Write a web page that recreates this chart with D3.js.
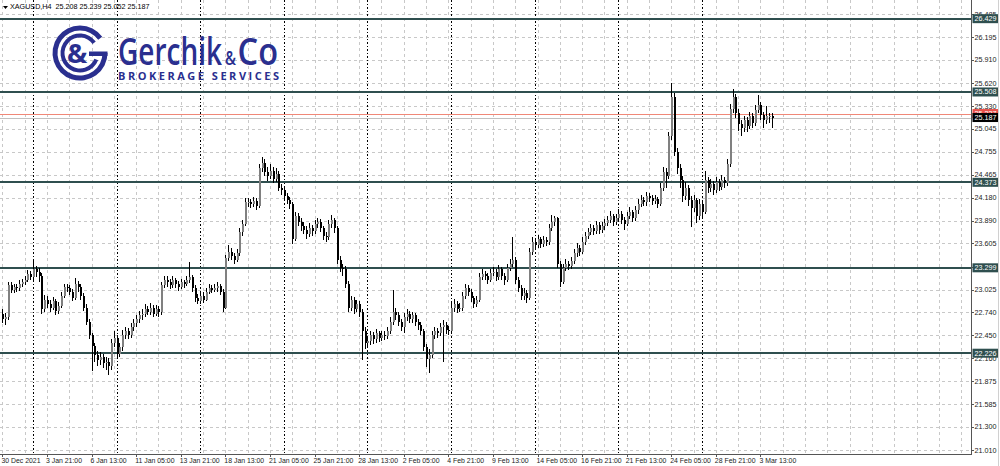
<!DOCTYPE html>
<html><head><meta charset="utf-8">
<script src="https://cdn.jsdelivr.net/npm/d3@7"></script>
<style>html,body{margin:0;padding:0;background:#fff;}svg{display:block;}</style>
</head><body><svg id="c" width="1000" height="466"></svg>
<script>
const opens=[22.72,22.66,22.68,23.08,23.02,23.06,23.04,23.10,23.12,23.15,
23.22,23.18,23.28,23.25,23.20,22.78,22.90,22.85,22.80,22.88,
22.76,22.82,22.95,23.06,23.04,23.00,22.92,23.10,23.06,22.95,
22.80,22.62,22.45,22.32,22.20,22.14,22.18,22.10,22.12,22.06,
22.35,22.42,22.22,22.30,22.45,22.50,22.45,22.55,22.60,22.65,
22.70,22.72,22.78,22.75,22.80,22.72,22.78,22.74,23.08,23.15,
23.12,23.08,23.14,23.10,23.06,23.12,23.10,23.15,23.18,23.05,
22.92,22.88,22.95,22.90,23.00,23.05,23.02,23.04,23.07,23.00,
22.80,23.42,23.50,23.45,23.40,23.48,23.75,23.85,24.12,24.12,
24.10,24.14,24.08,24.55,24.62,24.50,24.45,24.52,24.42,24.48,
24.30,24.28,24.20,24.15,24.10,23.66,23.95,23.88,23.82,23.78,
23.72,23.80,23.76,23.85,23.88,23.80,23.70,23.68,23.85,23.90,
23.80,23.40,23.30,23.28,23.10,22.80,22.90,22.78,22.85,22.75,
22.50,22.35,22.38,22.45,22.40,22.48,22.42,22.46,22.44,22.50,
22.62,22.75,22.70,22.62,22.55,22.68,22.72,22.65,22.70,22.62,
22.58,22.50,22.30,22.15,22.20,22.45,22.50,22.48,22.55,22.58,
22.52,22.50,22.80,22.85,22.78,22.80,22.95,23.05,23.00,22.92,
22.85,22.90,23.18,23.22,23.20,23.15,23.24,23.25,23.18,23.28,
23.20,23.15,23.30,23.35,23.40,23.15,23.05,22.95,22.98,22.92,
23.50,23.62,23.58,23.66,23.60,23.65,23.62,23.80,23.88,23.92,
23.35,23.12,23.30,23.35,23.32,23.38,23.48,23.55,23.50,23.62,
23.70,23.75,23.80,23.76,23.84,23.78,23.82,23.86,23.90,23.95,
23.88,23.92,23.98,23.90,23.85,23.95,24.00,23.92,24.02,24.10,
24.15,24.12,24.20,24.18,24.14,24.16,24.10,24.30,24.50,24.45,
24.95,25.45,24.75,24.55,24.40,24.20,24.30,24.15,24.05,24.15,
23.95,24.10,24.00,24.40,24.30,24.35,24.28,24.38,24.32,24.40,
24.36,24.60,25.30,25.45,25.25,25.10,25.05,25.15,25.08,25.20,
25.12,25.28,25.35,25.22,25.15,25.20,25.208];
const highs=[22.78,22.73,23.12,23.12,23.10,23.10,23.14,23.16,23.20,23.27,
23.26,23.39,23.32,23.30,23.24,22.96,22.94,22.90,22.93,22.91,
22.87,22.99,23.10,23.10,23.08,23.03,23.17,23.13,23.09,22.98,
22.84,22.66,22.48,22.35,22.25,22.24,22.22,22.18,22.16,22.40,
22.50,22.45,22.36,22.52,22.56,22.54,22.60,22.65,22.70,22.76,
22.78,22.84,22.82,22.86,22.83,22.83,22.82,23.12,23.20,23.19,
23.16,23.19,23.17,23.13,23.16,23.15,23.20,23.37,23.21,23.08,
22.97,23.00,22.99,23.05,23.10,23.08,23.09,23.12,23.10,23.03,
23.46,23.58,23.55,23.49,23.54,23.80,23.90,24.17,24.18,24.16,
24.19,24.17,24.60,24.69,24.66,24.56,24.60,24.57,24.55,24.51,
24.35,24.31,24.24,24.19,24.13,24.00,23.99,23.92,23.88,23.82,
23.86,23.84,23.90,23.93,23.91,23.83,23.75,23.90,23.96,23.93,
23.83,23.45,23.35,23.32,23.13,22.95,22.93,22.90,22.88,22.78,
22.55,22.44,22.50,22.49,22.53,22.51,22.51,22.50,22.56,22.68,
23.02,22.80,22.74,22.66,22.73,22.78,22.76,22.75,22.73,22.66,
22.62,22.53,22.34,22.28,22.50,22.56,22.54,22.60,22.64,22.62,
22.57,22.86,22.91,22.88,22.86,23.00,23.10,23.08,23.03,22.95,
22.95,23.23,23.28,23.26,23.24,23.29,23.31,23.28,23.33,23.31,
23.24,23.35,23.41,23.69,23.44,23.18,23.08,23.04,23.02,23.55,
23.68,23.66,23.71,23.69,23.70,23.68,23.85,23.96,23.95,23.94,
23.38,23.35,23.41,23.39,23.43,23.53,23.61,23.59,23.68,23.75,
23.80,23.85,23.84,23.89,23.88,23.87,23.91,23.95,24.01,23.98,
23.97,24.04,24.01,23.94,24.00,24.06,24.03,24.08,24.16,24.21,
24.19,24.25,24.24,24.22,24.21,24.19,24.36,24.56,24.55,25.00,
25.62,25.50,24.80,24.60,24.45,24.38,24.34,24.20,24.22,24.18,
24.16,24.14,24.51,24.44,24.41,24.39,24.44,24.42,24.46,24.44,
24.66,25.36,25.55,25.48,25.29,25.16,25.21,25.19,25.26,25.24,
25.34,25.47,25.38,25.26,25.33,25.25,25.239];
const lows=[22.60,22.58,22.64,22.98,22.98,23.00,23.01,23.06,23.08,23.12,
23.14,23.15,23.18,23.12,22.72,22.74,22.80,22.75,22.77,22.70,
22.72,22.79,22.92,23.00,22.96,22.88,22.90,23.00,22.90,22.76,
22.58,22.40,22.00,22.12,22.06,22.08,22.04,22.02,21.95,22.02,
22.30,22.16,22.18,22.26,22.40,22.40,22.42,22.50,22.56,22.60,
22.64,22.68,22.70,22.71,22.68,22.69,22.68,22.70,23.04,23.06,
23.03,23.05,23.05,23.01,23.03,23.04,23.07,23.11,23.00,22.87,
22.84,22.85,22.86,22.88,22.97,22.98,22.99,23.00,22.96,22.75,
22.78,23.38,23.40,23.35,23.37,23.45,23.70,23.82,24.06,24.05,
24.06,24.03,24.05,24.50,24.45,24.39,24.41,24.37,24.38,24.26,
24.22,24.15,24.10,24.04,23.60,23.63,23.83,23.76,23.72,23.66,
23.68,23.70,23.72,23.80,23.75,23.65,23.62,23.65,23.80,23.74,
23.35,23.25,23.20,23.05,22.75,22.76,22.72,22.74,22.68,22.14,
22.28,22.30,22.33,22.34,22.36,22.37,22.38,22.39,22.41,22.47,
22.58,22.64,22.57,22.50,22.48,22.63,22.60,22.61,22.57,22.52,
22.45,22.25,22.05,21.98,22.17,22.40,22.42,22.44,22.12,22.47,
22.45,22.47,22.75,22.73,22.74,22.76,22.91,22.95,22.87,22.80,
22.81,22.87,23.14,23.15,23.10,23.12,23.19,23.13,23.15,23.15,
23.08,23.12,23.26,23.31,23.10,23.00,22.90,22.90,22.86,22.90,
23.46,23.53,23.55,23.55,23.56,23.57,23.59,23.76,23.83,23.30,
23.06,23.10,23.26,23.27,23.28,23.35,23.44,23.45,23.47,23.58,
23.66,23.71,23.71,23.72,23.73,23.74,23.78,23.82,23.86,23.83,
23.84,23.88,23.85,23.78,23.82,23.91,23.87,23.89,23.98,24.06,
24.07,24.08,24.13,24.09,24.10,24.05,24.07,24.27,24.30,24.42,
24.90,24.70,24.48,24.30,24.12,24.15,24.08,23.81,24.00,23.86,
23.90,23.92,23.97,24.24,24.25,24.22,24.24,24.26,24.28,24.30,
24.33,24.56,25.25,25.18,25.02,24.96,25.00,25.01,25.04,25.06,
25.08,25.24,25.15,25.06,25.10,25.12,25.052];
const closes=[22.66,22.68,23.08,23.02,23.06,23.04,23.10,23.12,23.15,23.22,
23.18,23.28,23.25,23.20,22.78,22.90,22.85,22.80,22.88,22.76,
22.82,22.95,23.06,23.04,23.00,22.92,23.10,23.06,22.95,22.80,
22.62,22.45,22.32,22.20,22.14,22.18,22.10,22.12,22.06,22.35,
22.42,22.22,22.30,22.45,22.50,22.45,22.55,22.60,22.65,22.70,
22.72,22.78,22.75,22.80,22.72,22.78,22.74,23.08,23.15,23.12,
23.08,23.14,23.10,23.06,23.12,23.10,23.15,23.18,23.05,22.92,
22.88,22.95,22.90,23.00,23.05,23.02,23.04,23.07,23.00,22.80,
23.42,23.50,23.45,23.40,23.48,23.75,23.85,24.12,24.12,24.10,
24.14,24.08,24.55,24.62,24.50,24.45,24.52,24.42,24.48,24.30,
24.28,24.20,24.15,24.10,23.66,23.95,23.88,23.82,23.78,23.72,
23.80,23.76,23.85,23.88,23.80,23.70,23.68,23.85,23.90,23.80,
23.40,23.30,23.28,23.10,22.80,22.90,22.78,22.85,22.75,22.50,
22.35,22.38,22.45,22.40,22.48,22.42,22.46,22.44,22.50,22.62,
22.75,22.70,22.62,22.55,22.68,22.72,22.65,22.70,22.62,22.58,
22.50,22.30,22.15,22.20,22.45,22.50,22.48,22.55,22.58,22.52,
22.50,22.80,22.85,22.78,22.80,22.95,23.05,23.00,22.92,22.85,
22.90,23.18,23.22,23.20,23.15,23.24,23.25,23.18,23.28,23.20,
23.15,23.30,23.35,23.40,23.15,23.05,22.95,22.98,22.92,23.50,
23.62,23.58,23.66,23.60,23.65,23.62,23.80,23.88,23.92,23.35,
23.12,23.30,23.35,23.32,23.38,23.48,23.55,23.50,23.62,23.70,
23.75,23.80,23.76,23.84,23.78,23.82,23.86,23.90,23.95,23.88,
23.92,23.98,23.90,23.85,23.95,24.00,23.92,24.02,24.10,24.15,
24.12,24.20,24.18,24.14,24.16,24.10,24.30,24.50,24.45,24.95,
25.45,24.75,24.55,24.40,24.20,24.30,24.15,24.05,24.15,23.95,
24.10,24.00,24.40,24.30,24.35,24.28,24.38,24.32,24.40,24.36,
24.60,25.30,25.45,25.25,25.10,25.05,25.15,25.08,25.20,25.12,
25.28,25.35,25.22,25.15,25.20,25.208,25.187];

const priceTicks=[26.485,26.195,25.910,25.620,25.330,25.045,24.755,24.465,24.180,23.890,23.605,23.315,23.025,22.740,22.450,22.160,21.875,21.585,21.300,21.010];
const timeLabels=["30 Dec 2021","3 Jan 21:00","6 Jan 13:00","11 Jan 05:00","13 Jan 21:00","18 Jan 13:00","21 Jan 05:00","25 Jan 21:00","28 Jan 13:00","2 Feb 05:00","4 Feb 21:00","9 Feb 13:00","14 Feb 05:00","16 Feb 21:00","21 Feb 13:00","24 Feb 05:00","28 Feb 21:00","3 Mar 13:00"];
const timeLabelBars=[0,16,32,48,64,80,96,112,128,144,160,176,192,208,224,240,256,272];
const weekStartBars=[11,41,71,101,131,161,191,221,251];
const levels=[26.429,25.508,24.373,23.299,22.226];
const bidPrice=25.187, askPrice=25.237;
const header="XAGUSD,H4  25.208 25.239 25.052 25.187";

const svg=d3.select("#c");
const plotR=971, plotB=454;
const y=d3.scaleLinear().domain([21.010,26.195]).range([450,37.3]);
const x=d3.scaleLinear().domain([0,276]).range([2.4,2.4+276*2.787]);
const FONT="'Liberation Sans', Arial, sans-serif";
const BLUE="#2a2f8f";

const g=svg.append("g").attr("shape-rendering","crispEdges");
g.selectAll(".hg").data(priceTicks).enter().append("line")
 .attr("x1",0).attr("x2",plotR).attr("y1",d=>Math.round(y(d))+0.5).attr("y2",d=>Math.round(y(d))+0.5)
 .attr("stroke","#c8c8c8").attr("stroke-dasharray","3,3");
const vg=d3.range(0,400,8).filter(i=>x(i)<plotR);
g.selectAll(".vg").data(vg).enter().append("line")
 .attr("x1",d=>Math.round(x(d))+0.5).attr("x2",d=>Math.round(x(d))+0.5).attr("y1",0).attr("y2",plotB)
 .attr("stroke","#c8c8c8").attr("stroke-dasharray","3,3");
g.selectAll(".ws").data(weekStartBars).enter().append("line")
 .attr("x1",d=>Math.round(x(d))+0.5).attr("x2",d=>Math.round(x(d))+0.5).attr("y1",0).attr("y2",plotB)
 .attr("stroke","#000").attr("stroke-dasharray","1.5,2");

// logo
const cx=80, cy=53;
const arc=d3.arc();
const lg=svg.append("g").attr("transform",`translate(${cx},${cy})`).attr("fill",BLUE);
lg.append("path").attr("d",arc({innerRadius:22.5,outerRadius:27.5,startAngle:Math.PI*0.5,endAngle:Math.PI*2.3}));
lg.append("path").attr("d",arc({innerRadius:15.5,outerRadius:19.5,startAngle:Math.PI*0.62,endAngle:Math.PI*2.3}));
lg.append("rect").attr("x",9).attr("y",-1.5).attr("width",18.5).attr("height",4.5);
lg.append("text").attr("x",-3).attr("y",9.5).attr("text-anchor","middle")
 .attr("font-family","'Open Sans', sans-serif").attr("font-weight",700).attr("font-size",27).text("&");
const lt=svg.append("g").attr("font-family","'Open Sans', sans-serif").attr("font-weight",600).attr("fill",BLUE);
lt.append("text").attr("x",118).attr("y",65).attr("font-size",38).attr("textLength",104).attr("lengthAdjust","spacingAndGlyphs").text("Gerchik");
lt.append("text").attr("x",225).attr("y",65).attr("font-size",19).attr("textLength",11).attr("lengthAdjust","spacingAndGlyphs").text("&");
lt.append("text").attr("x",237.5).attr("y",65).attr("font-size",38).attr("textLength",40.5).attr("lengthAdjust","spacingAndGlyphs").text("Co");
svg.append("text").attr("x",118).attr("y",79.5).attr("font-family","'Open Sans', sans-serif").attr("font-weight",700)
 .attr("font-size",11).attr("fill",BLUE).attr("textLength",161).attr("lengthAdjust","spacing").text("BROKERAGE SERVICES");

// level lines
g.selectAll(".lv").data(levels).enter().append("line")
 .attr("x1",0).attr("x2",plotR).attr("y1",d=>y(d)).attr("y2",d=>y(d))
 .attr("stroke","#2f4f4f").attr("stroke-width",1.8);
g.append("line").attr("x1",0).attr("x2",plotR).attr("y1",Math.round(y(askPrice))+0.5).attr("y2",Math.round(y(askPrice))+0.5).attr("stroke","#f08878");
g.append("line").attr("x1",0).attr("x2",plotR).attr("y1",Math.round(y(bidPrice))+0.5).attr("y2",Math.round(y(bidPrice))+0.5).attr("stroke","#c0c0c0");

// candles
const idx=d3.range(closes.length);
const cg=svg.append("g").attr("shape-rendering","crispEdges");
cg.selectAll(".wk").data(idx).enter().append("line")
 .attr("x1",i=>Math.round(x(i))+0.5).attr("x2",i=>Math.round(x(i))+0.5)
 .attr("y1",i=>y(highs[i])).attr("y2",i=>y(lows[i])).attr("stroke","#000");
cg.selectAll(".bd").data(idx).enter().append("rect")
 .attr("x",i=>Math.round(x(i))-0.5).attr("width",2)
 .attr("y",i=>y(Math.max(opens[i],closes[i])))
 .attr("height",i=>Math.max(1,Math.abs(y(opens[i])-y(closes[i]))))
 .attr("fill",i=>closes[i]>=opens[i]?"#808080":"#000");

// axes
const ax=svg.append("g").attr("shape-rendering","crispEdges");
ax.append("line").attr("x1",plotR+0.5).attr("x2",plotR+0.5).attr("y1",0).attr("y2",plotB+0.5).attr("stroke","#555");
ax.append("line").attr("x1",0).attr("x2",plotR+0.5).attr("y1",plotB+0.5).attr("y2",plotB+0.5).attr("stroke","#555");
ax.append("line").attr("x1",998.5).attr("x2",998.5).attr("y1",0).attr("y2",466).attr("stroke","#d0d0d0");
ax.selectAll(".pt").data(priceTicks).enter().append("line")
 .attr("x1",plotR).attr("x2",plotR+3).attr("y1",d=>Math.round(y(d))+0.5).attr("y2",d=>Math.round(y(d))+0.5).attr("stroke","#555");
const shownTicks=priceTicks.filter(p=>levels.every(l=>Math.abs(y(l)-y(p))>3));
svg.selectAll(".pl").data(shownTicks).enter().append("text")
 .attr("x",plotR+3.5).attr("y",d=>y(d)+2.5).attr("font-family",FONT).attr("font-size",7.2).attr("fill","#222")
 .text(d=>d.toFixed(3));
ax.selectAll(".tt").data(timeLabelBars).enter().append("line")
 .attr("x1",d=>Math.round(x(d))+0.5).attr("x2",d=>Math.round(x(d))+0.5).attr("y1",plotB).attr("y2",plotB+3).attr("stroke","#555");
svg.selectAll(".tl").data(timeLabels).enter().append("text")
 .attr("x",(d,i)=>x(timeLabelBars[i])-1).attr("y",463).attr("font-family",FONT).attr("font-size",6.9).attr("fill","#222")
 .text(d=>d);

function box(p,fill,label){
  const yy=y(p);
  svg.append("rect").attr("x",plotR+1.5).attr("y",yy-4.5).attr("width",25.5).attr("height",9).attr("fill",fill);
  svg.append("text").attr("x",plotR+3.5).attr("y",yy+2.5).attr("font-family",FONT).attr("font-size",7.2).attr("fill","#fff").text(label);
}
levels.forEach(v=>box(v,"#2f4f4f",v.toFixed(3)));
box(askPrice,"#e8504a",askPrice.toFixed(3));
box(bidPrice,"#000",bidPrice.toFixed(3));

svg.append("path").attr("d","M3,6 L8,6 L5.5,9 Z").attr("fill","#000");
svg.append("text").attr("x",10).attr("y",9).attr("font-family",FONT).attr("font-size",7.2).attr("fill","#000").attr("xml:space","preserve").text(header);
</script></body></html>
